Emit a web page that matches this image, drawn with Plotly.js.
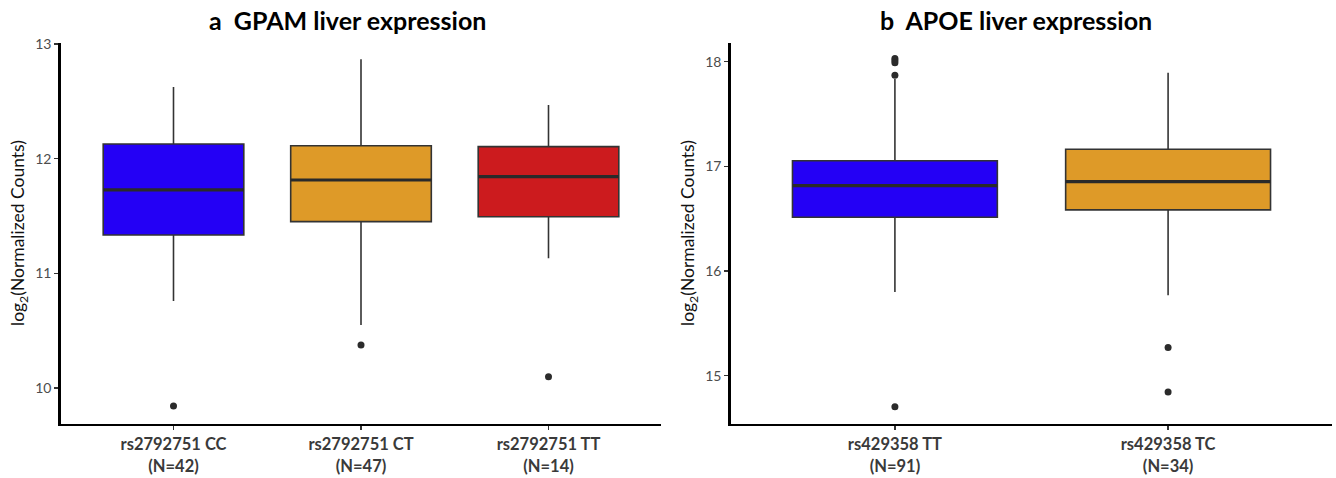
<!DOCTYPE html>
<html>
<head>
<meta charset="utf-8">
<script src="https://cdn.plot.ly/plotly-3.0.1.min.js"></script>
<style>html,body{margin:0;padding:0;background:#fff;}#chart{width:1336px;height:478px;}</style>
</head>
<body>
<div id="chart"></div>
<script>
// ---- Panel a: GPAM ----
const gpamCats = ['rs2792751 CC', 'rs2792751 CT', 'rs2792751 TT'];
const gpamN = [42, 47, 14];
const gpamQ1 = [11.335, 11.451, 11.494];
const gpamMedian = [11.727, 11.814, 11.843];
const gpamQ3 = [12.128, 12.113, 12.105];
const gpamLower = [10.76, 10.55, 11.132];
const gpamUpper = [12.625, 12.867, 12.468];
const gpamOutliers = [[9.844], [10.376], [10.099]];
const gpamColors = ['#2400F5', '#DE9A28', '#CC1B1E'];
const gpamTicks = [10, 11, 12, 13];

// ---- Panel b: APOE ----
const apoeCats = ['rs429358 TT', 'rs429358 TC'];
const apoeN = [91, 34];
const apoeQ1 = [16.514, 16.584];
const apoeMedian = [16.816, 16.854];
const apoeQ3 = [17.054, 17.163];
const apoeLower = [15.80, 15.769];
const apoeUpper = [17.835, 17.895];
const apoeOutliers = [[18.03, 18.01, 17.99, 17.87, 14.705], [15.27, 14.845]];
const apoeColors = ['#2400F5', '#DE9A28'];
const apoeTicks = [15, 16, 17, 18];

const BOXW = 0.75;
const FONT = 'Lato, "Open Sans", sans-serif';
const traces = [];

function addPanel(cats, q1, med, q3, lo, hi, outs, colors, xa, ya) {
  cats.forEach((c, i) => {
    traces.push({
      type: 'box', x: [i], q1: [q1[i]], median: [med[i]], q3: [q3[i]],
      lowerfence: [lo[i]], upperfence: [hi[i]],
      width: BOXW, fillcolor: colors[i], line: {color: '#333333', width: 1.6},
      whiskerwidth: 0, boxpoints: false, hoverinfo: 'skip',
      xaxis: xa, yaxis: ya, showlegend: false
    });
    traces.push({
      type: 'scatter', mode: 'lines', x: [i - BOXW / 2, i + BOXW / 2], y: [med[i], med[i]],
      line: {color: '#2a2a2a', width: 3.2}, xaxis: xa, yaxis: ya, showlegend: false, hoverinfo: 'skip'
    });
    traces.push({
      type: 'scatter', mode: 'markers', x: outs[i].map(() => i), y: outs[i],
      marker: {color: '#2b2b2b', size: 7}, xaxis: xa, yaxis: ya, showlegend: false, hoverinfo: 'skip'
    });
  });
}
addPanel(gpamCats, gpamQ1, gpamMedian, gpamQ3, gpamLower, gpamUpper, gpamOutliers, gpamColors, 'x', 'y');
addPanel(apoeCats, apoeQ1, apoeMedian, apoeQ3, apoeLower, apoeUpper, apoeOutliers, apoeColors, 'x2', 'y2');

const W = 1336, H = 478;
const yDom = [(H - 423.5) / H, (H - 42.7) / H];
function xAxis(cats, ns, dom, anchor) {
  return {
    domain: dom, anchor: anchor, range: [-0.6, cats.length - 1 + 0.6],
    tickvals: cats.map((c, i) => i),
    ticktext: cats.map((c, i) => '<b>' + c + '<br>(N=' + ns[i] + ')</b>'),
    showgrid: false, zeroline: false, showline: true, linecolor: '#000', linewidth: 2.8,
    ticks: 'outside', ticklen: 4, tickcolor: '#333', tickwidth: 1.2,
    tickfont: {family: FONT, size: 16.5, color: '#3a3a3a'}, fixedrange: true
  };
}
function yAxis(range, ticks, anchor) {
  return {
    domain: yDom, anchor: anchor, range: range, tickvals: ticks,
    showgrid: false, zeroline: false, showline: true, linecolor: '#000', linewidth: 2.8,
    ticks: 'outside', ticklen: 4, tickcolor: '#333', tickwidth: 1.2,
    tickfont: {family: FONT, size: 14, color: '#4d4d4d'}, fixedrange: true
  };
}

const layout = {
  width: W, height: H, margin: {l: 0, r: 0, t: 0, b: 0},
  paper_bgcolor: '#fff', plot_bgcolor: '#fff', showlegend: false,
  xaxis: xAxis(gpamCats, gpamN, [61 / W, 661 / W], 'y'),
  yaxis: yAxis([9.691, 13.011], gpamTicks, 'x'),
  xaxis2: xAxis(apoeCats, apoeN, [731 / W, 1332 / W], 'y2'),
  yaxis2: yAxis([14.544, 18.181], apoeTicks, 'x2'),
  annotations: [
    {text: '<b>a\u00A0\u00A0GPAM liver expression</b>', xref: 'paper', yref: 'paper',
     x: 347 / W, y: 1 - 20 / H, xanchor: 'center', yanchor: 'middle', showarrow: false,
     font: {family: FONT, size: 25, color: '#000'}},
    {text: '<b>b\u00A0\u00A0APOE liver expression</b>', xref: 'paper', yref: 'paper',
     x: 1016 / W, y: 1 - 20 / H, xanchor: 'center', yanchor: 'middle', showarrow: false,
     font: {family: FONT, size: 25, color: '#000'}},
    {text: 'log<sub>2</sub>(Normalized Counts)', xref: 'paper', yref: 'paper',
     x: 19 / W, y: 1 - 233 / H, xanchor: 'center', yanchor: 'middle', textangle: -90, showarrow: false,
     font: {family: FONT, size: 17.5, color: '#111'}},
    {text: 'log<sub>2</sub>(Normalized Counts)', xref: 'paper', yref: 'paper',
     x: 689 / W, y: 1 - 233 / H, xanchor: 'center', yanchor: 'middle', textangle: -90, showarrow: false,
     font: {family: FONT, size: 17.5, color: '#111'}}
  ]
};

Plotly.newPlot('chart', traces, layout, {displayModeBar: false, staticPlot: true});
</script>
</body>
</html>
